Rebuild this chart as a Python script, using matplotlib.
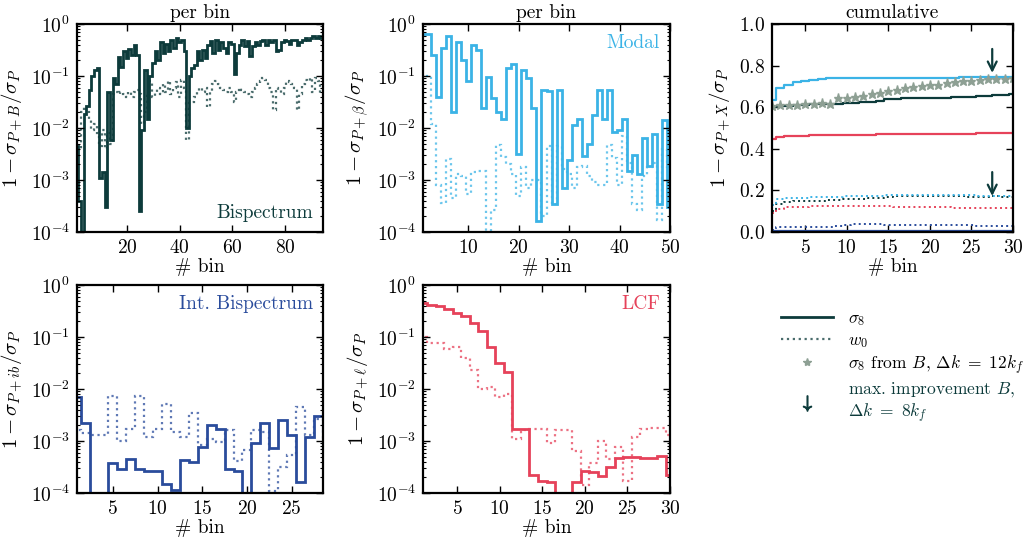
import numpy as np
import matplotlib
matplotlib.use("Agg")
import matplotlib.pyplot as plt
from matplotlib.lines import Line2D

plt.rcParams['font.family'] = 'serif'
plt.rcParams['font.serif'] = ['cmr10', 'DejaVu Serif']
plt.rcParams['mathtext.fontset'] = 'cm'
plt.rcParams['axes.formatter.use_mathtext'] = True
plt.rcParams['font.size'] = 13

c_B = '#0d3b3b'
c_mod = '#3bb3e6'
c_ib = '#2a4c9c'
c_lcf = '#e6425a'
c_star = '#8ea094'

# ---- per bin: Bispectrum (94 bins)
B_s8 = [0.0045, 4e-4, 5e-5, 0.019, 0.026, 0.054, 0.10, 0.13, 0.14, 0.0011,
        0.0014, 3e-4, 0.05, 0.006, 0.09, 0.07, 0.23, 0.15, 0.30, 0.22,
        0.33, 0.25, 0.40, 0.25, 2.5e-4, 0.009, 0.13, 0.015, 0.10, 0.18,
        0.30, 0.20, 0.45, 0.28, 0.42, 0.30, 0.50, 0.35, 0.55, 0.45,
        0.50, 0.30, 0.010, 0.10, 0.14, 0.16, 0.30, 0.20, 0.32, 0.22,
        0.40, 0.48, 0.28, 0.50, 0.32, 0.45, 0.35, 0.28, 0.45, 0.42,
        0.11, 0.28, 0.40, 0.50, 0.38, 0.48, 0.24, 0.38, 0.45, 0.40,
        0.48, 0.50, 0.40, 0.50, 0.45, 0.50, 0.30, 0.32, 0.45, 0.50,
        0.48, 0.42, 0.50, 0.50, 0.40, 0.45, 0.50, 0.55, 0.50, 0.55,
        0.60, 0.55, 0.60, 0.55]
B_w0 = [0.003, 0.004, 0.02, 0.025, 0.02, 0.014, 0.009, 0.012, 0.008, 0.0045,
        0.009, 0.004, 0.008, 0.005, 0.045, 0.05, 0.045, 0.05, 0.045, 0.04,
        0.05, 0.04, 0.05, 0.055, 0.045, 0.012, 0.02, 0.05, 0.08, 0.04,
        0.05, 0.06, 0.045, 0.07, 0.05, 0.08, 0.045, 0.06, 0.075, 0.04,
        0.085, 0.06, 0.006, 0.03, 0.032, 0.04, 0.05, 0.06, 0.05, 0.06,
        0.025, 0.05, 0.07, 0.08, 0.07, 0.06, 0.055, 0.05, 0.06, 0.05,
        0.032, 0.05, 0.06, 0.055, 0.05, 0.045, 0.04, 0.05, 0.06, 0.07,
        0.08, 0.09, 0.085, 0.06, 0.05, 0.022, 0.06, 0.055, 0.045, 0.06,
        0.08, 0.075, 0.07, 0.06, 0.022, 0.045, 0.07, 0.085, 0.08, 0.09,
        0.05, 0.09, 0.08, 0.045]

# ---- per bin: Modal (50 bins)
mod_s8 = [0.63, 0.63, 0.25, 0.04, 0.35, 0.58, 0.02, 0.45, 0.2, 0.08,
          0.4, 0.32, 0.024, 0.095, 0.037, 0.02, 0.015, 0.14, 0.17, 0.0032,
          0.13, 0.09, 0.024, 1.6e-4, 0.055, 0.052, 3.5e-4, 0.055, 7e-4, 0.0024,
          0.0115, 0.015, 0.0029, 0.0049, 0.018, 0.055, 0.015, 0.055, 0.0083, 0.009,
          0.015, 0.0015, 0.003, 0.0013, 0.0065, 0.0019, 0.0076, 3.5e-4, 0.014, 3e-4]
mod_w0 = [0.1, 0.1, 0.012, 8e-4, 3.6e-4, 0.0025, 4.5e-4, 0.0013, 0.0012, 5.5e-4,
          0.0014, 0.0015, 0.0015, 5e-5, 2.7e-4, 0.0048, 0.0028, 0.002, 0.0013, 5e-4,
          0.0018, 7e-4, 0.001, 0.001, 2e-4, 0.0045, 3.5e-4, 0.0045, 0.0016, 0.0013,
          7e-4, 0.0018, 0.0019, 0.0012, 9e-4, 8e-4, 8e-4, 0.0048, 0.0026, 8e-4,
          0.007, 0.0021, 3.4e-4, 2.6e-4, 0.0012, 0.0018, 0.0021, 1.7e-4, 0.004, 0.0018]

# ---- per bin: Integrated bispectrum (29 bins)
ib_s8 = [0.0071, 0.0022, 1e-4, 1e-4, 3.7e-4, 2.9e-4, 4.5e-4, 2.9e-4, 2.7e-4, 2.7e-4,
         1.5e-4, 1.15e-4, 4.3e-4, 4e-4, 7.8e-4, 0.002, 0.0017, 2.9e-4, 2.7e-4, 5e-5,
         9e-4, 0.0022, 7.2e-4, 0.0025, 0.0013, 1.65e-4, 0.0012, 0.003, 7e-4]
ib_w0 = [0.0016, 0.0014, 0.0013, 0.0013, 0.0074, 0.001, 0.0017, 0.0072, 0.0012, 0.0017,
         0.0051, 0.0015, 0.0012, 0.0034, 8.4e-4, 0.0011, 9.5e-4, 0.0016, 4.2e-4, 6.7e-4,
         0.0016, 0.0015, 1.1e-4, 3.2e-4, 5.3e-4, 0.0046, 0.0013, 0.0027, 7e-4]

# ---- per bin: LCF (30 bins)
lcf_s8 = [0.45, 0.42, 0.4, 0.34, 0.29, 0.25, 0.19, 0.13, 0.063, 0.032,
          0.021, 0.0017, 0.0017, 2.2e-4, 1.7e-4, 1.6e-4, 5e-5, 5e-5, 1.6e-4, 2.6e-4,
          2.5e-4, 2.1e-4, 3.2e-4, 4.8e-4, 5e-4, 5e-4, 4.8e-4, 4.8e-4, 5.2e-4, 2.2e-4]
lcf_w0 = [0.1, 0.075, 0.075, 0.059, 0.065, 0.039, 0.023, 0.010, 0.011, 0.007,
          0.008, 0.0011, 0.0016, 0.0017, 0.0017, 9e-4, 0.0016, 0.0016, 6.3e-4, 1.4e-4,
          3.8e-4, 0.001, 4.5e-4, 7.5e-4, 1.7e-4, 0.0012, 0.0017, 0.0018, 0.0018, 0.0013]

# ---- cumulative (30 bins)
cum_bins = np.arange(1, 31)
cum_mod_s8 = [0.636, 0.692, 0.708, 0.72, 0.725, 0.732, 0.737, 0.74, 0.74, 0.74,
              0.74, 0.74, 0.74, 0.74, 0.741, 0.741, 0.741, 0.741, 0.741, 0.742,
              0.742, 0.742, 0.742, 0.743, 0.743, 0.743, 0.744, 0.745, 0.745, 0.746]
cum_B_s8 = [0.60, 0.605, 0.608, 0.61, 0.612, 0.613, 0.615, 0.616, 0.617, 0.62,
            0.622, 0.625, 0.627, 0.628, 0.64, 0.641, 0.642, 0.643, 0.644, 0.645,
            0.645, 0.646, 0.647, 0.648, 0.65, 0.652, 0.655, 0.658, 0.66, 0.662]
cum_lcf_s8 = [0.445, 0.458, 0.46, 0.462, 0.463, 0.464, 0.465, 0.466, 0.466, 0.467,
              0.467, 0.468, 0.468, 0.469, 0.47, 0.47, 0.47, 0.47, 0.471, 0.471,
              0.472, 0.472, 0.472, 0.473, 0.473, 0.474, 0.475, 0.475, 0.475, 0.475]
cum_ib_s8 = [0.004, 0.005, 0.005, 0.005, 0.005, 0.005, 0.005, 0.005, 0.005, 0.005,
             0.006, 0.006, 0.006, 0.006, 0.006, 0.006, 0.006, 0.006, 0.006, 0.006,
             0.006, 0.006, 0.006, 0.006, 0.006, 0.006, 0.006, 0.006, 0.006, 0.006]
cum_mod_w0 = [0.13, 0.16, 0.162, 0.163, 0.165, 0.167, 0.168, 0.17, 0.17, 0.171,
              0.172, 0.172, 0.173, 0.175, 0.176, 0.177, 0.178, 0.178, 0.178, 0.178,
              0.178, 0.177, 0.177, 0.176, 0.176, 0.175, 0.175, 0.174, 0.173, 0.172]
cum_B_w0 = [0.10, 0.135, 0.145, 0.148, 0.15, 0.15, 0.15, 0.152, 0.155, 0.158,
            0.16, 0.16, 0.162, 0.165, 0.17, 0.172, 0.173, 0.174, 0.175, 0.175,
            0.174, 0.173, 0.172, 0.172, 0.17, 0.17, 0.17, 0.172, 0.17, 0.168]
cum_lcf_w0 = [0.09, 0.11, 0.118, 0.12, 0.122, 0.123, 0.124, 0.125, 0.125, 0.125,
              0.125, 0.125, 0.124, 0.124, 0.123, 0.122, 0.121, 0.12, 0.12, 0.119,
              0.118, 0.118, 0.117, 0.116, 0.116, 0.115, 0.115, 0.114, 0.114, 0.113]
cum_ib_w0 = [0.01, 0.022, 0.024, 0.025, 0.025, 0.026, 0.026, 0.026, 0.027, 0.036,
             0.038, 0.038, 0.037, 0.037, 0.036, 0.036, 0.035, 0.035, 0.035, 0.034,
             0.034, 0.034, 0.033, 0.033, 0.032, 0.031, 0.031, 0.03, 0.03, 0.03]
stars_B12 = [0.607, 0.609, 0.609, 0.611, 0.614, 0.616, 0.618, 0.616, 0.643, 0.645,
             0.648, 0.652, 0.665, 0.67, 0.678, 0.684, 0.692, 0.699, 0.704, 0.708,
             0.708, 0.716, 0.72, 0.724, 0.727, 0.731, 0.735, 0.735, 0.735, 0.738]
arrow_bin = 27.5
arrow_s8 = 0.765
arrow_w0 = 0.173

fig = plt.figure(figsize=(10.27, 5.41), dpi=100)
W, H = 1027., 541.
TICK = 14
LAB = 15


def make_ax(l, t, w=246, h=208):
    return fig.add_axes([l / W, 1 - (t + h) / H, w / W, h / H])


def style(ax):
    for s in ax.spines.values():
        s.set_linewidth(1.6)
    ax.tick_params(which='both', direction='in', top=True, right=True, labelsize=TICK)
    ax.tick_params(which='major', length=5, width=1, pad=5)
    ax.tick_params(which='minor', length=2.5, width=0.8)
    ax.tick_params(axis='x', which='minor', top=False, bottom=False)


def per_bin(ax, s8, w0, color, xmax, ylab, name, loc):
    n = len(s8)
    edges = np.arange(0.5, n + 1)
    ax.stairs(w0, edges, color=color, lw=1.6, ls=':', alpha=0.75, baseline=None)
    ax.stairs(s8, edges, color=color, lw=2.0, baseline=None)
    ax.set_yscale('log')
    ax.set_ylim(1e-4, 1)
    ax.set_xlim(1, xmax)
    ax.set_ylabel(ylab, fontsize=LAB)
    ax.set_xlabel('# bin', labelpad=1, fontsize=14)
    if loc == 'lower':
        ax.text(0.96, 0.05, name, color=color, transform=ax.transAxes,
                ha='right', va='bottom', fontsize=14)
    else:
        ax.text(0.96, 0.95, name, color=color, transform=ax.transAxes,
                ha='right', va='top', fontsize=14)
    style(ax)


ax1 = make_ax(77, 24)
per_bin(ax1, B_s8, B_w0, c_B, 94.5, r'$1-\sigma_{P+B}/\sigma_P$', 'Bispectrum', 'lower')
ax1.set_xticks([20, 40, 60, 80])
ax1.set_title('per bin', fontsize=14, pad=4)

ax2 = make_ax(423, 24, 247)
per_bin(ax2, mod_s8, mod_w0, c_mod, 50, r'$1-\sigma_{P+\beta}/\sigma_P$', 'Modal', 'upper')
ax2.set_xticks([10, 20, 30, 40, 50])
ax2.set_title('per bin', fontsize=14, pad=4)

ax4 = make_ax(77, 285)
per_bin(ax4, ib_s8, ib_w0, c_ib, 28.5, r'$1-\sigma_{P+ib}/\sigma_P$', 'Int. Bispectrum', 'upper')
ax4.set_xticks([5, 10, 15, 20, 25])

ax5 = make_ax(423, 285, 247)
per_bin(ax5, lcf_s8, lcf_w0, c_lcf, 30, r'$1-\sigma_{P+\ell}/\sigma_P$', 'LCF', 'upper')
ax5.set_xticks([5, 10, 15, 20, 25, 30])

# ---- cumulative panel
ax3 = make_ax(772, 24, 241)
for vals, col in [(cum_ib_w0, c_ib), (cum_lcf_w0, c_lcf), (cum_B_w0, c_B), (cum_mod_w0, c_mod)]:
    ax3.plot(cum_bins, vals, color=col, lw=1.4, ls=':', drawstyle='steps-mid')
for vals, col in [(cum_ib_s8, c_ib), (cum_lcf_s8, c_lcf), (cum_B_s8, c_B), (cum_mod_s8, c_mod)]:
    ax3.plot(cum_bins, vals, color=col, lw=1.6, drawstyle='steps-mid')
ax3.plot(cum_bins, stars_B12, ls='none', marker='*', ms=6.5, color=c_star, mec=c_star)
for yt in (arrow_s8, arrow_w0):
    ax3.annotate('', xy=(arrow_bin, yt), xytext=(arrow_bin, yt + 0.115),
                 arrowprops=dict(arrowstyle='->', color=c_B, lw=1.6,
                                 mutation_scale=16, shrinkA=0, shrinkB=0))
ax3.set_xlim(1, 30)
ax3.set_ylim(0, 1)
ax3.set_xticks([5, 10, 15, 20, 25, 30])
ax3.set_yticks([0, 0.2, 0.4, 0.6, 0.8, 1.0])
ax3.set_ylabel(r'$1-\sigma_{P+X}/\sigma_P$', fontsize=LAB)
ax3.set_xlabel('# bin', labelpad=1, fontsize=14)
ax3.set_title('cumulative', fontsize=14, pad=4)
style(ax3)

# ---- legend
handles = [Line2D([], [], color=c_B, lw=2),
           Line2D([], [], color=c_B, lw=1.6, ls=':', alpha=0.75),
           Line2D([], [], ls='none', marker='*', ms=6, color=c_star),
           Line2D([], [], ls='none', marker=r'$\downarrow$', ms=11, color=c_B)]
labels = [r'$\sigma_8$', r'$w_0$', r'$\sigma_8$ from $B$, $\Delta k\ =\ 12k_f$',
          'max. improvement $B$,\n' + r'$\Delta k\ =\ 8k_f$']
leg = fig.legend(handles, labels, loc='upper left', bbox_to_anchor=(769 / W, 1 - 299 / H),
                 frameon=False, handlelength=3.0, fontsize=12.5, labelspacing=0.22,
                 handletextpad=0.85, borderpad=0.2)
leg.get_texts()[3].set_color(c_B)

fig.savefig('out.png', dpi=100)
